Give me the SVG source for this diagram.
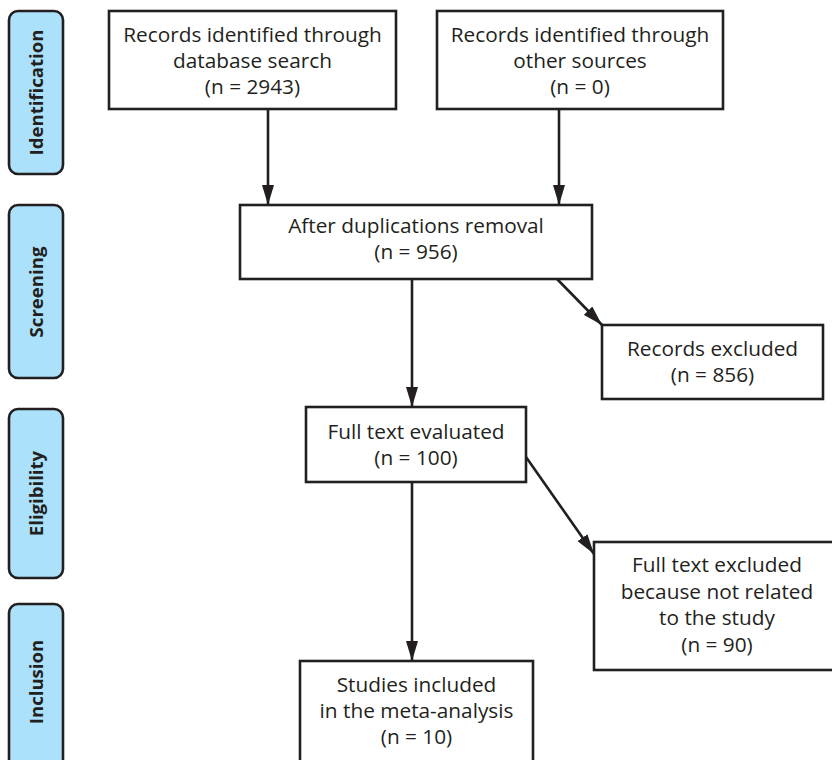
<svg xmlns="http://www.w3.org/2000/svg" width="832" height="760" viewBox="0 0 832 760">
<style>
.box{fill:#fff;stroke:#231f20;stroke-width:2.6}
.lab{fill:#abe1fa;stroke:#231f20;stroke-width:2.6}
.t{font-family:"Open Sans","Liberation Sans",sans-serif;font-size:20.8px;fill:#231f20;text-anchor:middle}
.s{font-family:"Open Sans","Liberation Sans",sans-serif;font-size:18.6px;font-weight:bold;fill:#231f20;text-anchor:middle}
.c{stroke:#231f20;stroke-width:2.6;fill:none;marker-end:url(#ah)}
</style>
<defs>
<marker id="ah" viewBox="0 0 20 12" refX="20" refY="6" markerWidth="20" markerHeight="12" markerUnits="userSpaceOnUse" orient="auto">
<path d="M0,0 L20,6 L0,12 Z" fill="#231f20"/>
</marker>
</defs>
<rect width="832" height="760" fill="#fff"/>
<g id="stage-identification"><rect class="lab" x="9" y="11" width="54" height="163" rx="9"/><text class="s" transform="translate(42.5,92.5) rotate(-90)">Identification</text></g>
<g id="stage-screening"><rect class="lab" x="9" y="205" width="54" height="173" rx="9"/><text class="s" transform="translate(42.5,292) rotate(-90)">Screening</text></g>
<g id="stage-eligibility"><rect class="lab" x="9" y="409" width="54" height="169" rx="9"/><text class="s" transform="translate(42.5,493.5) rotate(-90)">Eligibility</text></g>
<g id="stage-inclusion"><rect class="lab" x="9" y="604" width="54" height="170" rx="9"/><text class="s" transform="translate(42.5,682) rotate(-90)">Inclusion</text></g>
<g id="connectors">
<line class="c" x1="268" y1="109" x2="268" y2="205"/>
<line class="c" x1="559" y1="109" x2="559" y2="205"/>
<line class="c" x1="412" y1="279" x2="412" y2="407"/>
<line class="c" x1="557" y1="279" x2="602" y2="325"/>
<line class="c" x1="412" y1="482" x2="412" y2="661"/>
<line class="c" x1="526" y1="457" x2="594" y2="554"/>
</g>
<g id="n1"><rect class="box" x="109" y="11" width="287" height="98"/><text class="t" x="252.5" y="42">Records identified through</text><text class="t" x="252.5" y="68">database search</text><text class="t" x="252.5" y="94">(n = 2943)</text></g>
<g id="n2"><rect class="box" x="437" y="11" width="286" height="98"/><text class="t" x="580" y="42">Records identified through</text><text class="t" x="580" y="68">other sources</text><text class="t" x="580" y="94">(n = 0)</text></g>
<g id="n3"><rect class="box" x="240" y="205" width="352" height="74"/><text class="t" x="416" y="233">After duplications removal</text><text class="t" x="416" y="259">(n = 956)</text></g>
<g id="n4"><rect class="box" x="602" y="325" width="221" height="74"/><text class="t" x="712.5" y="356">Records excluded</text><text class="t" x="712.5" y="382">(n = 856)</text></g>
<g id="n5"><rect class="box" x="306" y="407" width="220" height="75"/><text class="t" x="416" y="439">Full text evaluated</text><text class="t" x="416" y="465">(n = 100)</text></g>
<g id="n6"><rect class="box" x="594" y="542" width="250" height="128"/><text class="t" x="717" y="572">Full text excluded</text><text class="t" x="717" y="599">because not related</text><text class="t" x="717" y="625">to the study</text><text class="t" x="717" y="652">(n = 90)</text></g>
<g id="n7"><rect class="box" x="300" y="661" width="233" height="110"/><text class="t" x="416.5" y="692">Studies included</text><text class="t" x="416.5" y="718">in the meta-analysis</text><text class="t" x="416.5" y="744">(n = 10)</text></g>
</svg>
